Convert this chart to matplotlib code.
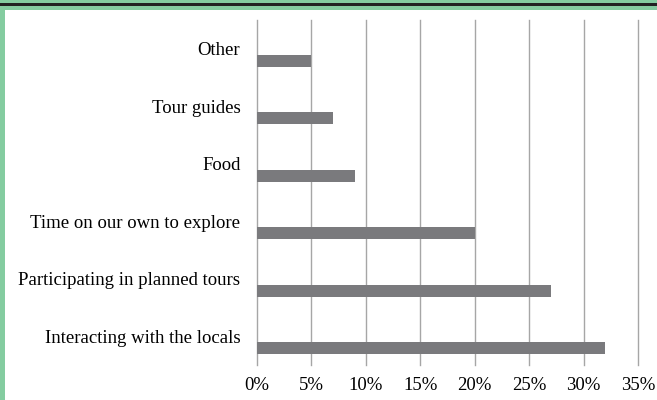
import numpy as np
import matplotlib.pyplot as plt
from matplotlib.patches import Rectangle

# data
categories = ["Other", "Tour guides", "Food", "Time on our own to explore",
              "Participating in planned tours", "Interacting with the locals"]
values = [5, 7, 9, 20, 27, 32]
xticks = [0, 5, 10, 15, 20, 25, 30, 35]

plt.rcParams['font.family'] = ['Liberation Serif', 'DejaVu Serif']

fig = plt.figure(figsize=(6.57, 4.0), dpi=100)
fig.patch.set_facecolor('white')

# green frame bits (top band + left strip) and dark rule
green = '#84cca0'
fig.patches.append(Rectangle((0, 1 - 10 / 400), 1, 10 / 400, transform=fig.transFigure,
                             facecolor=green, edgecolor='none', zorder=0))
fig.patches.append(Rectangle((0, 0), 5 / 657, 1, transform=fig.transFigure,
                             facecolor=green, edgecolor='none', zorder=0))
fig.patches.append(Rectangle((0, 1 - 6 / 400), 1, 3 / 400, transform=fig.transFigure,
                             facecolor='#222222', edgecolor='none', zorder=1))

ax = fig.add_axes([257 / 657, 1 - 365 / 400, (638 - 257) / 657, (365 - 20) / 400])

y = np.arange(len(categories))
ax.barh(y + 0.21, values, height=0.21, color='#7a7a7d', zorder=3)

ax.set_xlim(0, 35)
ax.set_ylim(len(categories) - 0.5, -0.5)
ax.set_xticks(xticks)
ax.set_xticklabels([f"{v}%" for v in xticks], fontsize=13.5)
ax.set_yticks(y)
ax.set_yticklabels(categories, fontsize=13.5)
ax.tick_params(length=0)
ax.tick_params(axis='x', pad=9)
ax.tick_params(axis='y', pad=12)
ax.grid(axis='x', color='#a6a6a6', linewidth=1.0, zorder=0)
for line in ax.get_xgridlines():
    line.set_clip_on(False)
for s in ax.spines.values():
    s.set_visible(False)

fig.savefig('out.png', dpi=100)
